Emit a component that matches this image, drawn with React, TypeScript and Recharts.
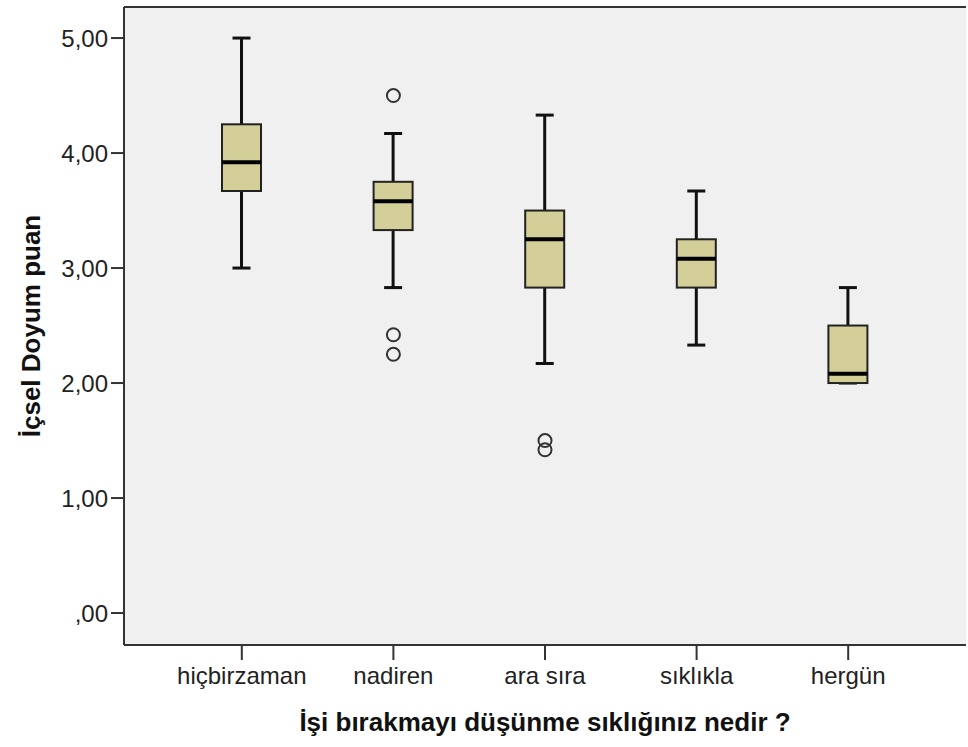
import React from 'react';
import {
  ComposedChart, Bar, Line, XAxis, YAxis, CartesianGrid, ReferenceLine,
} from 'recharts';

document.body.style.margin = '0';

// categories on the x axis
const categories = ['hiçbirzaman', 'nadiren', 'ara sıra', 'sıklıkla', 'hergün'];

// five-number summaries
const whiskerLow = [3.0, 2.83, 2.17, 2.33, 2.0];
const q1 = [3.67, 3.33, 2.83, 2.83, 2.0];
const median = [3.92, 3.58, 3.25, 3.08, 2.08];
const q3 = [4.25, 3.75, 3.5, 3.25, 2.5];
const whiskerHigh = [5.0, 4.17, 4.33, 3.67, 2.83];

// outliers (circles)
const outlierA = [null, 4.5, 1.5, null, null];
const outlierB = [null, 2.42, 1.42, null, null];
const outlierC = [null, 2.25, null, null, null];

const yTicks = [0, 1, 2, 3, 4, 5];
const Y_MIN = -0.278;
const Y_MAX = 5.27;

const FONT = '"Liberation Sans", Arial, sans-serif';
const BOX_FILL = '#d4cf98';

const data = categories.map((name, i) => ({
  name,
  range: [whiskerLow[i], whiskerHigh[i]],
  low: whiskerLow[i],
  q1: q1[i],
  med: median[i],
  q3: q3[i],
  high: whiskerHigh[i],
  oa: outlierA[i],
  ob: outlierB[i],
  oc: outlierC[i],
}));

// draws whiskers, box and median inside the range bar the library laid out
const BoxShape = (props: any) => {
  const { x, y, width, height, payload } = props;
  const top = Math.min(y, y + height);
  const bottom = Math.max(y, y + height);
  const { low, high } = payload;
  const toY = (v: number) => bottom - ((v - low) / (high - low)) * (bottom - top);
  const cx = x + width / 2;
  const cap = 18;
  const yQ1 = toY(payload.q1);
  const yQ3 = toY(payload.q3);
  const yMed = toY(payload.med);
  return (
    <g>
      <line x1={cx} x2={cx} y1={top} y2={yQ3} stroke="#111" strokeWidth={3} />
      <line x1={cx} x2={cx} y1={yQ1} y2={bottom} stroke="#111" strokeWidth={3} />
      <line x1={cx - cap / 2} x2={cx + cap / 2} y1={top} y2={top} stroke="#111" strokeWidth={3} />
      <line x1={cx - cap / 2} x2={cx + cap / 2} y1={bottom} y2={bottom} stroke="#111" strokeWidth={3} />
      <rect x={x} y={yQ3} width={width} height={yQ1 - yQ3} fill={BOX_FILL} stroke="#222" strokeWidth={2} />
      <line x1={x} x2={x + width} y1={yMed} y2={yMed} stroke="#000" strokeWidth={4} />
    </g>
  );
};

const OutlierDot = (props: any) => {
  const { cx, cy, value, index } = props;
  if (value == null || cy == null) return <g key={index} />;
  return <circle key={index} cx={cx} cy={cy} r={6.5} fill="none" stroke="#333" strokeWidth={2} />;
};

const fmt = (v: number) => (v === 0 ? ',00' : v.toFixed(2).replace('.', ','));

const YTitle = ({ viewBox }: any) => {
  const x = 31;
  const y = viewBox.y + viewBox.height / 2;
  return (
    <text x={x} y={y} transform={`rotate(-90, ${x}, ${y})`} textAnchor="middle"
      dominantBaseline="central" fontFamily={FONT} fontWeight="bold" fontSize={26} fill="#111">
      İçsel Doyum puan
    </text>
  );
};

const XTitle = ({ viewBox }: any) => (
  <text x={viewBox.x + viewBox.width / 2} y={722} textAnchor="middle" dominantBaseline="central"
    fontFamily={FONT} fontWeight="bold" fontSize={26} fill="#111">
    İşi bırakmayı düşünme sıklığınız nedir ?
  </text>
);

export default function App() {
  return (
    <ComposedChart width={968} height={747} data={data}
      margin={{ top: 7, right: 2, left: 0, bottom: 0 }}>
      <CartesianGrid fill="#f0f0f0" horizontal={false} vertical={false} />
      <XAxis dataKey="name" height={102} padding={{ left: 42, right: 42 }}
        axisLine={{ stroke: '#333', strokeWidth: 2 }} tickLine={{ stroke: '#333', strokeWidth: 2 }}
        tickSize={15} tickMargin={7}
        tick={{ fontSize: 24, fill: '#222', fontFamily: FONT }}
        label={<XTitle />} />
      <YAxis type="number" domain={[Y_MIN, Y_MAX]} ticks={yTicks} allowDataOverflow
        width={124} tickFormatter={fmt}
        axisLine={{ stroke: '#333', strokeWidth: 2 }} tickLine={{ stroke: '#333', strokeWidth: 2 }}
        tickSize={13} tickMargin={3}
        tick={{ fontSize: 24, fill: '#222', fontFamily: FONT }}
        label={<YTitle />} />
      <YAxis yAxisId="right" orientation="right" width={0} tick={false} tickLine={false}
        axisLine={{ stroke: '#c4c4c4', strokeWidth: 2 }} />
      <ReferenceLine y={Y_MAX} stroke="#333" strokeWidth={2} ifOverflow="extendDomain" />
      <Bar dataKey="range" barSize={39} shape={<BoxShape />} isAnimationActive={false} />
      <Line dataKey="oa" stroke="none" dot={<OutlierDot />} activeDot={false} isAnimationActive={false} />
      <Line dataKey="ob" stroke="none" dot={<OutlierDot />} activeDot={false} isAnimationActive={false} />
      <Line dataKey="oc" stroke="none" dot={<OutlierDot />} activeDot={false} isAnimationActive={false} />
    </ComposedChart>
  );
}
